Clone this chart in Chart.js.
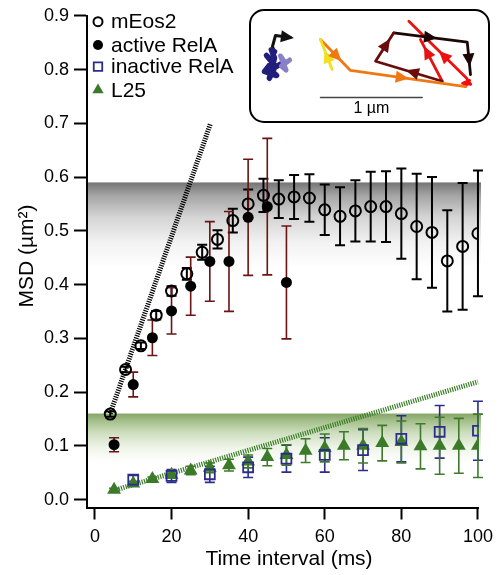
<!DOCTYPE html>
<html>
<head>
<meta charset="utf-8">
<script src="https://cdn.jsdelivr.net/npm/chart.js@4.4.1/dist/chart.umd.min.js"></script>
<style>
  html, body { margin: 0; padding: 0; background: #fff; }
  #wrap { position: relative; width: 500px; height: 575px; }
  #inset { position: absolute; left: 249px; top: 9px; width: 241px; height: 114px;
           box-sizing: border-box; border: 2px solid #000; border-radius: 15px;
           background: #fff; overflow: hidden; }
  #inset canvas { display: block; }
</style>
</head>
<body>
<div id="wrap">
  <canvas id="msdChart" width="500" height="575"></canvas>
  <div id="inset"><canvas id="trackChart" width="237" height="110"></canvas></div>
</div>
<script>
// time intervals (ms) and MSD values (um^2)
const mEosTime = [4, 8, 12, 16, 20, 24, 28, 32, 36, 40, 44, 48, 52, 56, 60, 64, 68, 72, 76, 80, 84, 88, 92, 96, 100];
const mEosMSD  = [0.159, 0.242, 0.286, 0.343, 0.388, 0.420, 0.460, 0.484, 0.519, 0.550, 0.566, 0.559, 0.563,
                  0.561, 0.539, 0.527, 0.537, 0.545, 0.545, 0.532, 0.508, 0.497, 0.444, 0.471, 0.495];
const mEosErr  = [0.005, 0.005, 0.006, 0.008, 0.009, 0.011, 0.014, 0.017, 0.022, 0.027, 0.031, 0.035, 0.041,
                  0.044, 0.047, 0.054, 0.057, 0.065, 0.066, 0.084, 0.098, 0.103, 0.094, 0.118, 0.117];

const activeTime = [5, 10, 15, 20, 25, 30, 35, 40, 45, 50];
const activeMSD  = [0.102, 0.214, 0.301, 0.351, 0.397, 0.443, 0.443, 0.525, 0.545, 0.404];
const activeErr  = [0.013, 0.023, 0.033, 0.043, 0.054, 0.074, 0.093, 0.108, 0.127, 0.105];

const inactiveTime = [10, 20, 30, 40, 50, 60, 70, 80, 90, 100];
const inactiveMSD  = [0.037, 0.044, 0.047, 0.060, 0.076, 0.083, 0.092, 0.113, 0.126, 0.128];
const inactiveErr  = [0.008, 0.012, 0.015, 0.019, 0.025, 0.032, 0.038, 0.043, 0.049, 0.055];

const l25Time = [5, 10, 15, 20, 25, 30, 35, 40, 45, 50, 55, 60, 65, 70, 75, 80, 85, 90, 95, 100];
const l25MSD  = [0.018, 0.030, 0.038, 0.046, 0.054, 0.059, 0.064, 0.071, 0.079, 0.083,
                 0.091, 0.096, 0.100, 0.100, 0.105, 0.107, 0.099, 0.100, 0.100, 0.100];
const l25Err  = [0.003, 0.004, 0.004, 0.006, 0.008, 0.009, 0.011, 0.012, 0.016, 0.019,
                 0.022, 0.026, 0.026, 0.032, 0.033, 0.039, 0.042, 0.053, 0.051, 0.059];

// dotted initial-slope lines
const fastFitTime = [4, 30.2];
const fastFitMSD  = [0.16, 0.70];
const slowFitTime = [5, 100];
const slowFitMSD  = [0.017, 0.219];

// plateau bands (top, fade-out level)
const grayBand  = [0.59, 0.43];
const greenBand = [0.16, 0.07];

const xTicks = [0, 20, 40, 60, 80, 100];
const yTicks = [0, 0.1, 0.2, 0.3, 0.4, 0.5, 0.6, 0.7, 0.8, 0.9];

const legendNames = ['mEos2', 'active RelA', 'inactive RelA', 'L25'];

// inset trajectories, um from the inset's lower-left corner
const blobLightX = [0.380, 0.300, 0.345, 0.290, 0.330];
const blobLightY = [0.600, 0.540, 0.500, 0.640, 0.580];
const blobNavyX  = [0.330, 0.192, 0.251, 0.133, 0.211, 0.152, 0.240, 0.180, 0.231, 0.200, 0.231];
const blobNavyY  = [0.580, 0.506, 0.447, 0.487, 0.585, 0.644, 0.540, 0.420, 0.620, 0.700, 0.683];
const blobBlackX = [0.231, 0.211, 0.241, 0.388];
const blobBlackY = [0.683, 0.733, 0.841, 0.821];
const yellowX = [0.798, 0.683];
const yellowY = [0.506, 0.801];
const orangeX = [0.683, 0.978, 2.109];
const orangeY = [0.801, 0.497, 0.339];
const redX = [2.109, 2.150, 2.080, 2.160, 2.120, 1.552];
const redY = [0.339, 0.400, 0.370, 0.360, 0.420, 0.981];
const red2X = [1.880, 1.666];
const red2Y = [0.391, 0.801];
const maroonX = [1.880, 1.224, 1.404];
const maroonY = [0.391, 0.588, 0.867];
const blackX = [1.404, 2.126, 2.158];
const blackY = [0.867, 0.775, 0.457];
const scaleBarX = [0.683, 1.683];
const scaleBarY = [0.231, 0.231];

const FONT = '"Liberation Sans", Arial, Helvetica, sans-serif';

function pts(xs, ys) {
    return xs.map((x, i) => ({ x: x, y: ys[i] }));
}

// background gradient bands
const bandPlugin = {
    id: 'bands',
    beforeDatasetsDraw(chart) {
        const ctx = chart.ctx;
        const xs = chart.scales.x, ys = chart.scales.y;
        const left = chart.chartArea.left + 1;
        const right = xs.getPixelForValue(100.8);
        const bands = [
            [grayBand, ['#747474', '#a4a4a4', '#d4d4d4', '#f2f2f2', '#ffffff']],
            [greenBand, ['#84a566', '#a4bf8a', '#cedebf', '#eef4e8', '#ffffff']]
        ];
        bands.forEach(([b, cols]) => {
            const top = ys.getPixelForValue(b[0]);
            const bot = ys.getPixelForValue(b[1]);
            const g = ctx.createLinearGradient(0, top, 0, bot);
            const stops = [0, 0.15, 0.4, 0.7, 1];
            stops.forEach((s, i) => g.addColorStop(s, cols[i]));
            ctx.save();
            ctx.fillStyle = g;
            ctx.fillRect(left, top, right - left, bot - top);
            ctx.restore();
        });
    }
};

// vertical error bars with caps
const errorBarPlugin = {
    id: 'errorBars',
    beforeDatasetsDraw(chart) {
        const ctx = chart.ctx;
        const ys = chart.scales.y;
        chart.data.datasets.forEach((ds, i) => {
            if (!ds.errors) return;
            const meta = chart.getDatasetMeta(i);
            ctx.save();
            ctx.strokeStyle = ds.errorColor;
            ctx.lineWidth = ds.errorWidth;
            meta.data.forEach((el, j) => {
                const v = ds.data[j].y, e = ds.errors[j];
                const yt = ys.getPixelForValue(v + e);
                const yb = ys.getPixelForValue(v - e);
                const x = el.x, c = 5;
                ctx.beginPath();
                ctx.moveTo(x, yt); ctx.lineTo(x, yb);
                ctx.moveTo(x - c, yt); ctx.lineTo(x + c, yt);
                ctx.moveTo(x - c, yb); ctx.lineTo(x + c, yb);
                ctx.stroke();
            });
            ctx.restore();
        });
    }
};

// axis titles and legend
const textPlugin = {
    id: 'texts',
    afterDraw(chart) {
        const ctx = chart.ctx;
        ctx.save();
        ctx.fillStyle = '#000';
        ctx.font = '21px ' + FONT;
        ctx.textAlign = 'center';
        ctx.textBaseline = 'middle';
        ctx.fillText('Time interval (ms)', 289, 559);
        ctx.translate(27, 256);
        ctx.rotate(-Math.PI / 2);
        ctx.fillText('MSD (\u00b5m\u00b2)', 0, 0);
        ctx.restore();

        const rows = [21.7, 45, 66.7, 90];
        ctx.save();
        ctx.font = '21px ' + FONT;
        ctx.textAlign = 'left';
        ctx.textBaseline = 'middle';
        for (let i = 0; i < 4; i++) {
            const ds = chart.data.datasets[i];
            ctx.fillStyle = ds.backgroundColor;
            ctx.strokeStyle = ds.borderColor;
            ctx.lineWidth = ds.borderWidth;
            Chart.helpers.drawPoint(ctx, {
                pointStyle: ds.pointStyle,
                radius: ds.legendRadius,
                borderWidth: ds.borderWidth,
                rotation: 0
            }, 98, rows[i]);
            ctx.fillStyle = '#000';
            ctx.fillText(legendNames[i], 111, rows[i] + 1);
        }
        ctx.restore();
    }
};

const axisCommon = {
    type: 'linear',
    grid: { drawOnChartArea: false, drawTicks: true, tickWidth: 2, tickColor: '#000' },
    border: { display: true, color: '#000', width: 2 }
};

new Chart(document.getElementById('msdChart'), {
    type: 'scatter',
    data: {
        datasets: [
            {
                label: legendNames[0], data: pts(mEosTime, mEosMSD), errors: mEosErr,
                errorColor: '#000', errorWidth: 2,
                pointStyle: 'circle', pointRadius: 5.5, legendRadius: 4.5,
                borderColor: '#000', backgroundColor: 'rgba(0,0,0,0)', borderWidth: 2, order: 0
            },
            {
                label: legendNames[1], data: pts(activeTime, activeMSD), errors: activeErr,
                errorColor: '#6a1414', errorWidth: 1.6,
                pointStyle: 'circle', pointRadius: 5.5, legendRadius: 5,
                borderColor: '#000', backgroundColor: '#000', borderWidth: 0, order: 1
            },
            {
                label: legendNames[2], data: pts(inactiveTime, inactiveMSD), errors: inactiveErr,
                errorColor: '#2c2c8c', errorWidth: 1.6,
                pointStyle: 'rect', pointRadius: 7, legendRadius: 6,
                borderColor: '#2c2c8c', backgroundColor: 'rgba(0,0,0,0)', borderWidth: 1.8, order: 2
            },
            {
                label: legendNames[3], data: pts(l25Time, l25MSD), errors: l25Err,
                errorColor: '#3f7a2c', errorWidth: 1.6,
                pointStyle: 'triangle', pointRadius: 8, legendRadius: 6.5,
                borderColor: '#3a7a28', backgroundColor: '#3a7a28', borderWidth: 0, order: 3
            },
            {
                data: pts(fastFitTime, fastFitMSD), showLine: true, pointRadius: 0,
                borderColor: '#000', borderWidth: 5, borderDash: [1.2, 1.2], order: 4
            },
            {
                data: pts(slowFitTime, slowFitMSD), showLine: true, pointRadius: 0,
                borderColor: '#3c7f28', borderWidth: 5, borderDash: [1.2, 1.2], order: 5
            }
        ]
    },
    options: {
        responsive: false,
        animation: false,
        layout: { padding: { left: 0, right: 17.5, top: 12.7, bottom: 0 } },
        plugins: { legend: { display: false }, tooltip: { enabled: false } },
        scales: {
            x: Object.assign({}, axisCommon, {
                min: -2.07, max: 100.2,
                grid: Object.assign({}, axisCommon.grid, { tickLength: 12 }),
                afterBuildTicks: s => { s.ticks = xTicks.map(v => ({ value: v })); },
                afterFit: s => { s.height = 67.5; },
                ticks: { color: '#000', padding: 7, font: { family: FONT, size: 18 }, maxRotation: 0,
                         callback: v => String(v) }
            }),
            y: Object.assign({}, axisCommon, {
                min: -0.0148, max: 0.9,
                grid: Object.assign({}, axisCommon.grid, { tickLength: 13 }),
                afterBuildTicks: s => { s.ticks = yTicks.map(v => ({ value: v })); },
                afterFit: s => { s.width = 87; },
                ticks: { color: '#000', padding: 5, font: { family: FONT, size: 18 },
                         callback: v => v.toFixed(1) }
            })
        }
    },
    plugins: [bandPlugin, errorBarPlugin, textPlugin]
});

// arrowheads along the inset tracks
const arrowPlugin = {
    id: 'arrows',
    afterDatasetsDraw(chart) {
        const ctx = chart.ctx;
        chart.data.datasets.forEach((ds, i) => {
            if (!ds.arrows) return;
            const meta = chart.getDatasetMeta(i);
            ds.arrows.forEach(([seg, f]) => {
                const a = meta.data[seg], b = meta.data[seg + 1];
                const x = a.x + (b.x - a.x) * f, y = a.y + (b.y - a.y) * f;
                const ang = Math.atan2(b.y - a.y, b.x - a.x);
                ctx.save();
                ctx.translate(x, y);
                ctx.rotate(ang);
                ctx.fillStyle = ds.borderColor;
                ctx.beginPath();
                ctx.moveTo(6.5, 0);
                ctx.lineTo(-6.5, -6);
                ctx.lineTo(-6.5, 6);
                ctx.closePath();
                ctx.fill();
                ctx.restore();
            });
        });
        // scale bar label
        const bar = chart.getDatasetMeta(chart.data.datasets.length - 1).data;
        ctx.save();
        ctx.fillStyle = '#000';
        ctx.font = '16px ' + FONT;
        ctx.textAlign = 'center';
        ctx.textBaseline = 'top';
        ctx.fillText('1 \u00b5m', (bar[0].x + bar[1].x) / 2, bar[0].y + 3);
        ctx.restore();
    }
};

function track(xs, ys, color, width, arrows) {
    return { data: pts(xs, ys), showLine: true, pointRadius: 0, borderColor: color,
             borderWidth: width, borderJoinStyle: 'round', borderCapStyle: 'round', arrows: arrows };
}

new Chart(document.getElementById('trackChart'), {
    type: 'scatter',
    data: {
        datasets: [
            track(blobLightX, blobLightY, '#8a80c8', 5, null),
            track(blobNavyX, blobNavyY, '#221f7c', 5.5, null),
            track(blobBlackX, blobBlackY, '#111', 3, [[2, 0.8]]),
            track(yellowX, yellowY, '#f0e020', 2.8, [[0, 0.45]]),
            track(orangeX, orangeY, '#f07812', 2.8, [[0, 0.55], [1, 0.45]]),
            track(maroonX, maroonY, '#6a0c0c', 2.8, [[0, 0.45], [1, 0.6]]),
            track(blackX, blackY, '#1c0606', 2.8, [[0, 0.5], [1, 0.55]]),
            track(red2X, red2Y, '#e81212', 2.8, [[0, 0.7]]),
            track(redX, redY, '#ee1010', 2.8, [[4, 0.4]]),
            track(scaleBarX, scaleBarY, '#444', 1.5, null)
        ]
    },
    options: {
        responsive: false,
        animation: false,
        layout: { padding: 0 },
        plugins: { legend: { display: false }, tooltip: { enabled: false } },
        scales: {
            x: { type: 'linear', display: false, min: 0, max: 2.330 },
            y: { type: 'linear', display: false, min: 0, max: 1.082 }
        }
    },
    plugins: [arrowPlugin]
});
</script>
</body>
</html>
